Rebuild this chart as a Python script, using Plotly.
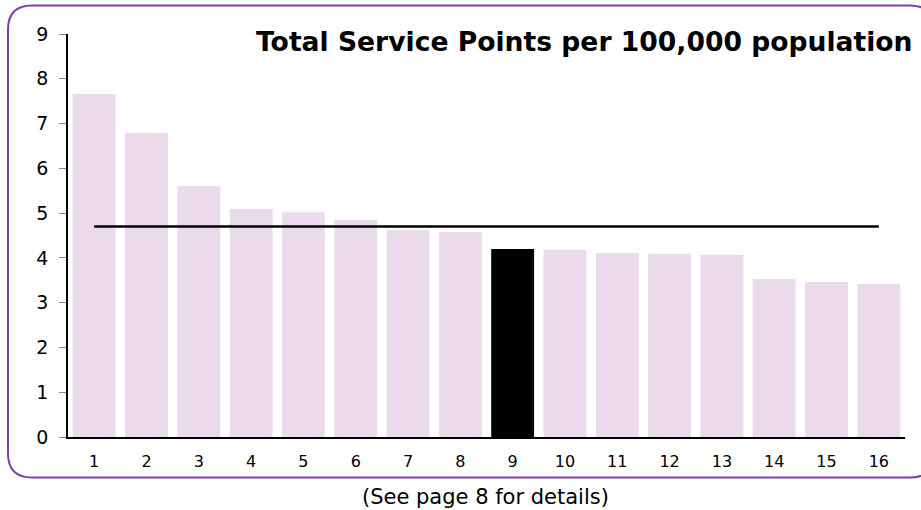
import plotly.graph_objects as go

categories = [str(i) for i in range(1, 17)]
values = [7.66, 6.79, 5.60, 5.09, 5.02, 4.85, 4.62, 4.58, 4.20, 4.18, 4.11, 4.09, 4.07, 3.53, 3.46, 3.42]
highlight = "9"
average = 4.70
y_ticks = [0, 1, 2, 3, 4, 5, 6, 7, 8, 9]
title_text = "Total Service Points per 100,000 population"
footer_text = "(See page 8 for details)"

W, H = 921, 510
L, R, T, B = 68, 16, 34, 73
pw, ph = W - L - R, H - T - B

def px(x):
    return (x - L) / pw

def py(y):
    return (H - B - y) / ph

bar_colors = ["#000000" if c == highlight else "#EBD9EC" for c in categories]

fig = go.Figure()
fig.add_trace(go.Bar(x=categories, y=values, marker=dict(color=bar_colors, line=dict(width=0)),
                     hoverinfo="x+y"))
fig.add_trace(go.Scatter(x=[categories[0], categories[-1]], y=[average, average], mode="lines",
                         line=dict(color="#000000", width=2.5), hoverinfo="skip"))

# rounded frame
x0, y0, x1, y1 = 8, 5.5, 934, 477.5
r = 24
def P(x, y):
    return f"{px(x):.5f},{py(y):.5f}"
path = (f"M {P(x0 + r, y0)} L {P(x1 - r, y0)} Q {P(x1, y0)} {P(x1, y0 + r)} "
        f"L {P(x1, y1 - r)} Q {P(x1, y1)} {P(x1 - r, y1)} "
        f"L {P(x0 + r, y1)} Q {P(x0, y1)} {P(x0, y1 - r)} "
        f"L {P(x0, y0 + r)} Q {P(x0, y0)} {P(x0 + r, y0)} Z")
fig.add_shape(type="path", path=path, xref="paper", yref="paper",
              line=dict(color="#7E3FB0", width=2), fillcolor="rgba(0,0,0,0)", layer="below")

fig.add_annotation(text=f"<b>{title_text}</b>", xref="paper", yref="paper",
                   x=px(915), y=py(41), xanchor="right", yanchor="middle", showarrow=False,
                   font=dict(size=26.6, color="#000000", family="Verdana, DejaVu Sans, sans-serif"))
fig.add_annotation(text=footer_text, xref="paper", yref="paper",
                   x=px(485), y=py(497), xanchor="center", yanchor="middle", showarrow=False,
                   font=dict(size=21, color="#000000", family="Verdana, DejaVu Sans, sans-serif"))

fig.update_layout(
    width=W, height=H,
    margin=dict(l=L, r=R, t=T, b=B, pad=0),
    paper_bgcolor="#FFFFFF", plot_bgcolor="#FFFFFF",
    showlegend=False, bargap=0.18,
    font=dict(family="Verdana, DejaVu Sans, sans-serif", color="#000000"),
    xaxis=dict(type="category", range=[-0.5, 15.5], showgrid=False, zeroline=False,
               showline=True, linecolor="#000000", linewidth=1.5, ticks="",
               tickfont=dict(size=16), ticklabelstandoff=9),
    yaxis=dict(range=[0, 9], tickvals=y_ticks, showgrid=False, zeroline=False,
               showline=True, linecolor="#000000", linewidth=1.5, ticks="outside",
               ticklen=7, tickcolor="#888888", tickwidth=1, tickfont=dict(size=19),
               ticklabelstandoff=7),
)

fig.write_html("out.html", config={"displayModeBar": False},
               post_script="document.body.style.margin='0';document.body.style.overflow='hidden';")
